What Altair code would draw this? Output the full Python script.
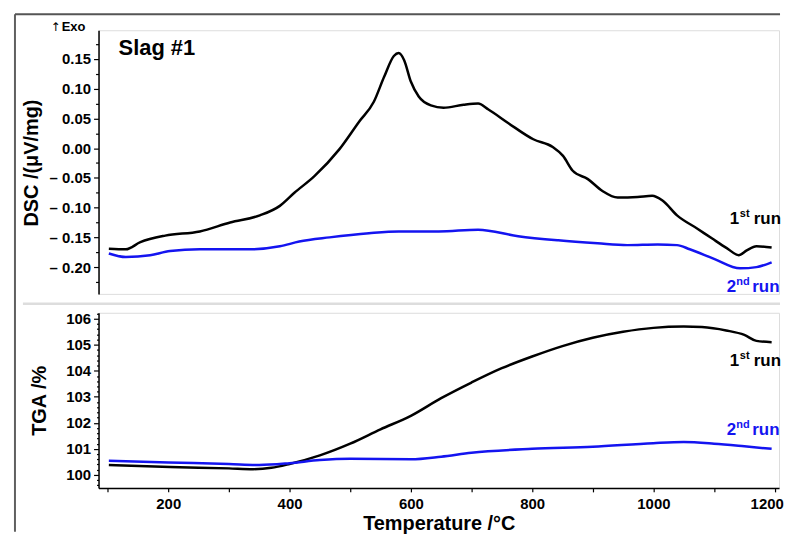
import altair as alt
import pandas as pd

# ---------------- data ----------------
dsc1_T = [102, 130, 154, 195, 252, 302, 351, 384, 408, 441, 482, 515, 539, 556, 572, 580, 589, 600,
          613, 633, 654, 687, 711, 728, 761, 802, 834, 851, 867, 892, 916, 941, 974, 998, 1015, 1039,
          1072, 1097, 1121, 1141, 1154, 1170, 1195]
dsc1_v = [-0.169, -0.170, -0.158, -0.147, -0.140, -0.125, -0.113, -0.097, -0.075, -0.047, -0.002,
          0.045, 0.078, 0.120, 0.155, 0.160, 0.148, 0.112, 0.087, 0.072, 0.068, 0.073, 0.075, 0.065,
          0.042, 0.015, 0.002, -0.013, -0.038, -0.052, -0.072, -0.083, -0.082, -0.080, -0.088,
          -0.113, -0.135, -0.152, -0.168, -0.180, -0.172, -0.165, -0.167]

dsc2_T = [102, 130, 170, 203, 252, 334, 384, 416, 466, 531, 580, 646, 711, 777, 843, 908, 957,
          1007, 1039, 1060, 1100, 1143, 1170, 1195]
dsc2_v = [-0.177, -0.183, -0.180, -0.173, -0.170, -0.170, -0.165, -0.157, -0.150, -0.143, -0.140,
          -0.140, -0.137, -0.148, -0.155, -0.160, -0.163, -0.162, -0.163, -0.170, -0.186, -0.202,
          -0.200, -0.192]

tga1_T = [102, 203, 300, 340, 370, 400, 450, 500, 550, 600, 650, 700, 750, 800, 850, 900, 950,
          1000, 1050, 1080, 1120, 1150, 1170, 1195]
tga1_v = [100.38, 100.30, 100.25, 100.22, 100.27, 100.42, 100.75, 101.20, 101.75, 102.27, 102.95,
          103.55, 104.10, 104.55, 104.95, 105.27, 105.50, 105.65, 105.70, 105.68, 105.55, 105.38,
          105.15, 105.10]

tga2_T = [102, 200, 300, 350, 400, 450, 500, 600, 650, 700, 800, 900, 1000, 1050, 1100, 1150, 1195]
tga2_v = [100.54, 100.48, 100.42, 100.38, 100.45, 100.57, 100.62, 100.60, 100.70, 100.85, 101.00,
          101.08, 101.22, 101.26, 101.20, 101.10, 101.00]

x_ticks = [100, 200, 300, 400, 500, 600, 700, 800, 900, 1000, 1100, 1200]
dsc_ticks = [-0.225, -0.2, -0.175, -0.15, -0.125, -0.1, -0.075, -0.05, -0.025, 0.0,
             0.025, 0.05, 0.075, 0.1, 0.125, 0.15, 0.175]
tga_major = [100, 101, 102, 103, 104, 105, 106]
tga_ticks = [round(99.6 + 0.2 * i, 1) for i in range(34)]

BLUE = "#1414f0"
FONT = "Liberation Sans"

# annotation texts (T, value, text, font size, colour)
dsc_ann_T = [24.3, 118, 1126, 1142.6, 1165.5, 1121, 1136.6, 1163]
dsc_ann_v = [0.1967, 0.1567, -0.1267, -0.115, -0.1267, -0.2417, -0.230, -0.2417]
dsc_ann_t = ["Exo", "Slag #1", "1", "st", "run", "2", "nd", "run"]
dsc_ann_s = [13, 22, 17, 11, 17, 17, 11, 17]
dsc_ann_c = ["black", "black", "black", "black", "black", BLUE, BLUE, BLUE]

arrow_T = [6.5]
arrow_v = [0.1967]
arrow_t = ["↑"]

tga_ann_T = [1126, 1142.6, 1165.5, 1121, 1136.6, 1163]
tga_ann_v = [104.2, 104.47, 104.2, 101.53, 101.8, 101.53]
tga_ann_t = ["1", "st", "run", "2", "nd", "run"]
tga_ann_s = [17, 11, 17, 17, 11, 17]
tga_ann_c = ["black", "black", "black", BLUE, BLUE, BLUE]

# ---------------- tables ----------------
dsc_df = pd.concat([
    pd.DataFrame({"T": dsc1_T, "v": dsc1_v, "run": "1st"}),
    pd.DataFrame({"T": dsc2_T, "v": dsc2_v, "run": "2nd"}),
])
tga_df = pd.concat([
    pd.DataFrame({"T": tga1_T, "v": tga1_v, "run": "1st"}),
    pd.DataFrame({"T": tga2_T, "v": tga2_v, "run": "2nd"}),
])
dsc_ann = pd.DataFrame({"T": dsc_ann_T, "v": dsc_ann_v, "txt": dsc_ann_t, "fs": dsc_ann_s, "col": dsc_ann_c})
arrow_df = pd.DataFrame({"T": arrow_T, "v": arrow_v, "txt": arrow_t})
tga_ann = pd.DataFrame({"T": tga_ann_T, "v": tga_ann_v, "txt": tga_ann_t, "fs": tga_ann_s, "col": tga_ann_c})
one = pd.DataFrame({"a": [0]})

W = 684
H1 = 265
H2 = 176

xscale = alt.Scale(domain=[85, 1207.2], nice=False, zero=False)
color_enc = alt.Color("run:N", scale=alt.Scale(domain=["1st", "2nd"], range=["black", BLUE]), legend=None)

common_axis = dict(
    labelFont=FONT, labelFontSize=15, labelFontWeight="bold", labelColor="black",
    titleFont=FONT, titleFontSize=20, titleFontWeight="bold", titleColor="black",
    domainColor="black", domainWidth=1.5, tickColor="black", tickWidth=1.2,
    grid=False, labelOverlap=False, labelFlush=False,
)

dsc_axis = alt.Axis(
    values=dsc_ticks,
    labelExpr="abs(round(datum.value*40)) % 2 == 0 ? (datum.value < -0.001 ? '\u2013 ' + format(-datum.value, '.2f') : format(abs(datum.value), '.2f')) : ''",
    tickSize={"condition": {"test": "abs(round(datum.value*40)) % 2 == 0", "value": 5}, "value": 3},
    labelPadding=3,
    title="DSC /(μV/mg)", titleX=-67, titleY=133, titleAngle=-90, titleAlign="center", titleBaseline="middle",
    **common_axis,
)
tga_axis = alt.Axis(
    values=tga_ticks,
    labelExpr="abs(datum.value - round(datum.value)) < 0.01 ? format(round(datum.value), 'd') : ''",
    tickSize={"condition": {"test": "abs(datum.value - round(datum.value)) < 0.01", "value": 5}, "value": 2},
    labelPadding=3,
    title="TGA /%", titleX=-59, titleY=88, titleAngle=-90, titleAlign="center", titleBaseline="middle",
    **common_axis,
)
x_axis = alt.Axis(
    values=x_ticks,
    labelExpr="datum.value % 200 == 0 ? format(datum.value, 'd') : ''",
    labelOffset={"condition": {"test": "datum.value >= 1200", "value": -8}, "value": 0},
    tickSize=4, labelPadding=5,
    title="Temperature /°C", titleY=36, titleBaseline="middle",
    **common_axis,
)

y_dsc = alt.Y("v:Q", scale=alt.Scale(domain=[-0.245, 0.1983], nice=False, zero=False), axis=dsc_axis)
y_tga = alt.Y("v:Q", scale=alt.Scale(domain=[99.5, 106.23], nice=False, zero=False), axis=tga_axis)
x_top = alt.X("T:Q", scale=xscale, axis=None)
x_bot = alt.X("T:Q", scale=xscale, axis=x_axis)

dsc_lines = alt.Chart(dsc_df).mark_line(strokeWidth=2.5, interpolate="monotone").encode(
    x=x_top, y=y_dsc, color=color_enc, detail="run:N")
dsc_text = alt.Chart(dsc_ann).mark_text(align="left", baseline="alphabetic", font=FONT, fontWeight="bold").encode(
    x=x_top, y=y_dsc, text="txt:N",
    size=alt.Size("fs:Q", scale=None, legend=None),
    color=alt.Color("col:N", scale=None, legend=None))
arrow_text = alt.Chart(arrow_df).mark_text(align="left", baseline="alphabetic", font="DejaVu Sans",
                                           fontSize=12, color="black").encode(
    x=x_top, y=y_dsc, text="txt:N")

frame_left = alt.Chart(one).mark_rule(color="#606060", strokeWidth=2).encode(
    x=alt.value(-84), y=alt.value(-16), y2=alt.value(504))
frame_top = alt.Chart(one).mark_rule(color="#555555", strokeWidth=2).encode(
    x=alt.value(-84), x2=alt.value(685), y=alt.value(-16))
separator = alt.Chart(one).mark_rule(color="#dddddd", strokeWidth=2.5).encode(
    x=alt.value(-76), x2=alt.value(685), y=alt.value(275))

top = alt.layer(dsc_lines, dsc_text, arrow_text, frame_left, frame_top, separator).properties(width=W, height=H1)

tga_lines = alt.Chart(tga_df).mark_line(strokeWidth=2.5, interpolate="monotone").encode(
    x=x_bot, y=y_tga, color=color_enc, detail="run:N")
tga_text = alt.Chart(tga_ann).mark_text(align="left", baseline="alphabetic", font=FONT, fontWeight="bold").encode(
    x=x_bot, y=y_tga, text="txt:N",
    size=alt.Size("fs:Q", scale=None, legend=None),
    color=alt.Color("col:N", scale=None, legend=None))

bottom = alt.layer(tga_lines, tga_text).properties(width=W, height=H2)

chart = alt.vconcat(top, bottom, spacing=19, bounds="flush").resolve_scale(
    color="independent"
).properties(
    padding={"left": 5, "top": 3, "right": 0, "bottom": 0},
).configure_view(strokeWidth=0, stroke="transparent").configure(background="white")

chart.save("out.html", embed_options={"renderer": "svg", "actions": False})
